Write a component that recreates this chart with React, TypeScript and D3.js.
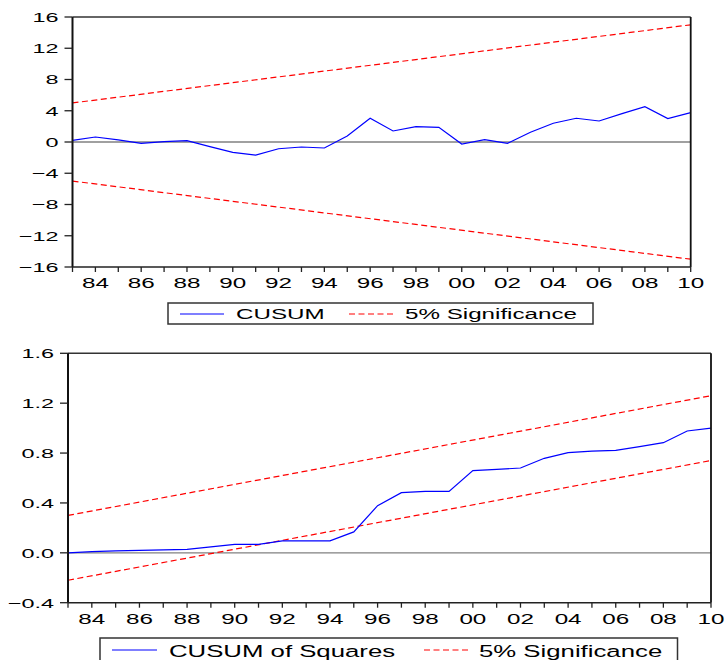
import React from "react";
import * as d3 from "d3";

const years = [1983, 1984, 1985, 1986, 1987, 1988, 1989, 1990, 1991, 1992, 1993, 1994, 1995, 1996, 1997, 1998, 1999, 2000, 2001, 2002, 2003, 2004, 2005, 2006, 2007, 2008, 2009, 2010];
const cusum = [0.2, 0.64, 0.26, -0.17, 0.04, 0.17, -0.6, -1.32, -1.67, -0.86, -0.64, -0.77, 0.77, 3.04, 1.41, 1.96, 1.88, -0.26, 0.3, -0.17, 1.24, 2.4, 3.04, 2.69, 3.63, 4.53, 2.99, 3.76];
const cusumSq = [0, 0.01, 0.016, 0.02, 0.023, 0.027, 0.048, 0.067, 0.067, 0.096, 0.096, 0.096, 0.168, 0.378, 0.482, 0.493, 0.493, 0.659, 0.669, 0.68, 0.758, 0.803, 0.816, 0.822, 0.851, 0.883, 0.977, 1.0];
const sigYears = [1983, 2010];
const cusumUpper = [5, 15];
const cusumLower = [-5, -15];
const sqUpper = [0.3, 1.26];
const sqLower = [-0.22, 0.74];
const cusumTicks = [-16, -12, -8, -4, 0, 4, 8, 12, 16];
const sqTicks = [-0.4, 0.0, 0.4, 0.8, 1.2, 1.6];
const labelYears = [1984, 1986, 1988, 1990, 1992, 1994, 1996, 1998, 2000, 2002, 2004, 2006, 2008, 2010];

const FONT = "'Liberation Sans', Arial, Helvetica, sans-serif";
const BLUE = "#0000ff";
const RED = "#ff0000";

function SText({ x, y, sx, size, anchor, children }: any) {
  return (
    <text
      transform={`translate(${x},${y}) scale(${sx},1)`}
      textAnchor={anchor}
      fontFamily={FONT}
      fontSize={size}
      fill="#000"
    >
      {children}
    </text>
  );
}

function Panel({ xr, yr, yd, values, upper, lower, yTicks, yFmt }: any) {
  const x = d3.scaleLinear().domain([1983, 2010]).range(xr);
  const y = d3.scaleLinear().domain(yd).range(yr);
  const line = d3
    .line<[number, number]>()
    .x((d) => x(d[0]))
    .y((d) => y(d[1]));
  const dataPts = years.map((yr2, i) => [yr2, values[i]] as [number, number]);
  const upPts = sigYears.map((yr2, i) => [yr2, upper[i]] as [number, number]);
  const loPts = sigYears.map((yr2, i) => [yr2, lower[i]] as [number, number]);
  const [x0, x1] = xr;
  const [yb, yt] = yr;
  return (
    <g>
      {/* zero line */}
      <line x1={x0} x2={x1} y1={y(0)} y2={y(0)} stroke="#808080" strokeWidth={1.3} />
      {/* significance */}
      <path d={line(upPts) || ""} fill="none" stroke={RED} strokeWidth={1.2} strokeDasharray="6,3.5" />
      <path d={line(loPts) || ""} fill="none" stroke={RED} strokeWidth={1.2} strokeDasharray="6,3.5" />
      {/* data */}
      <path d={line(dataPts) || ""} fill="none" stroke={BLUE} strokeWidth={1.2} />
      {/* frame */}
      <line x1={x0} x2={x1} y1={yt} y2={yt} stroke="#333" strokeWidth={1.5} />
      <line x1={x1} x2={x1} y1={yt} y2={yb} stroke="#111" strokeWidth={1.8} />
      <line x1={x0} x2={x0} y1={yt} y2={yb} stroke="#111" strokeWidth={2} />
      <line x1={x0} x2={x1} y1={yb} y2={yb} stroke="#222" strokeWidth={1.5} />
      {/* y ticks */}
      {yTicks.map((t: number) => (
        <g key={"y" + t}>
          <line x1={x0 - 8} x2={x0} y1={y(t)} y2={y(t)} stroke="#222" strokeWidth={1.3} />
          <SText x={x0 - 14} y={y(t) + 4.8} sx={1.8} size={13} anchor="end">
            {yFmt(t)}
          </SText>
        </g>
      ))}
      {/* x ticks */}
      {years.map((yy) => (
        <line key={"xt" + yy} x1={x(yy)} x2={x(yy)} y1={yb} y2={yb + 5} stroke="#222" strokeWidth={1.3} />
      ))}
      {labelYears.map((yy) => (
        <SText key={"xl" + yy} x={x(yy)} y={yb + 21} sx={1.73} size={14} anchor="middle">
          {String(yy % 100).padStart(2, "0")}
        </SText>
      ))}
    </g>
  );
}

function Legend({ box, items, size, sx, textY, lineY }: any) {
  return (
    <g>
      <rect x={box[0]} y={box[1]} width={box[2]} height={box[3]} fill="#fff" stroke="#333" strokeWidth={1.5} />
      {items.map((it: any) => (
        <g key={it.label}>
          <line
            x1={it.lx[0]}
            x2={it.lx[1]}
            y1={lineY}
            y2={lineY}
            stroke={it.color}
            strokeWidth={1.2}
            strokeDasharray={it.dash ? "6,3.5" : undefined}
          />
          <SText x={it.tx} y={textY} sx={sx} size={size} anchor="start">
            {it.label}
          </SText>
        </g>
      ))}
    </g>
  );
}

export default function App() {
  const fmtInt = (t: number) => d3.format("d")(t);
  const fmt1 = (t: number) => d3.format(".1f")(t);
  return (
    <svg
      width={727}
      height={660}
      style={{ position: "absolute", left: 0, top: 0, background: "#fff" }}
    >
      <rect x={0} y={0} width={727} height={660} fill="#fff" />
      <Panel
        xr={[72.5, 690.7]}
        yr={[267, 17]}
        yd={[-16, 16]}
        values={cusum}
        upper={cusumUpper}
        lower={cusumLower}
        yTicks={cusumTicks}
        yFmt={fmtInt}
      />
      <Legend
        box={[168, 303, 425, 21]}
        size={15.5}
        sx={1.56}
        textY={319.3}
        lineY={314}
        items={[
          { label: "CUSUM", color: BLUE, lx: [180, 224], tx: 236 },
          { label: "5% Significance", color: RED, dash: true, lx: [349, 393], tx: 405 },
        ]}
      />
      <Panel
        xr={[68, 711]}
        yr={[602.7, 353.3]}
        yd={[-0.4, 1.6]}
        values={cusumSq}
        upper={sqUpper}
        lower={sqLower}
        yTicks={sqTicks}
        yFmt={fmt1}
      />
      <Legend
        box={[100, 638, 577.5, 30]}
        size={16.3}
        sx={1.58}
        textY={656.7}
        lineY={650}
        items={[
          { label: "CUSUM of Squares", color: BLUE, lx: [112, 157], tx: 169 },
          { label: "5% Significance", color: RED, dash: true, lx: [424, 470], tx: 479 },
        ]}
      />
    </svg>
  );
}
